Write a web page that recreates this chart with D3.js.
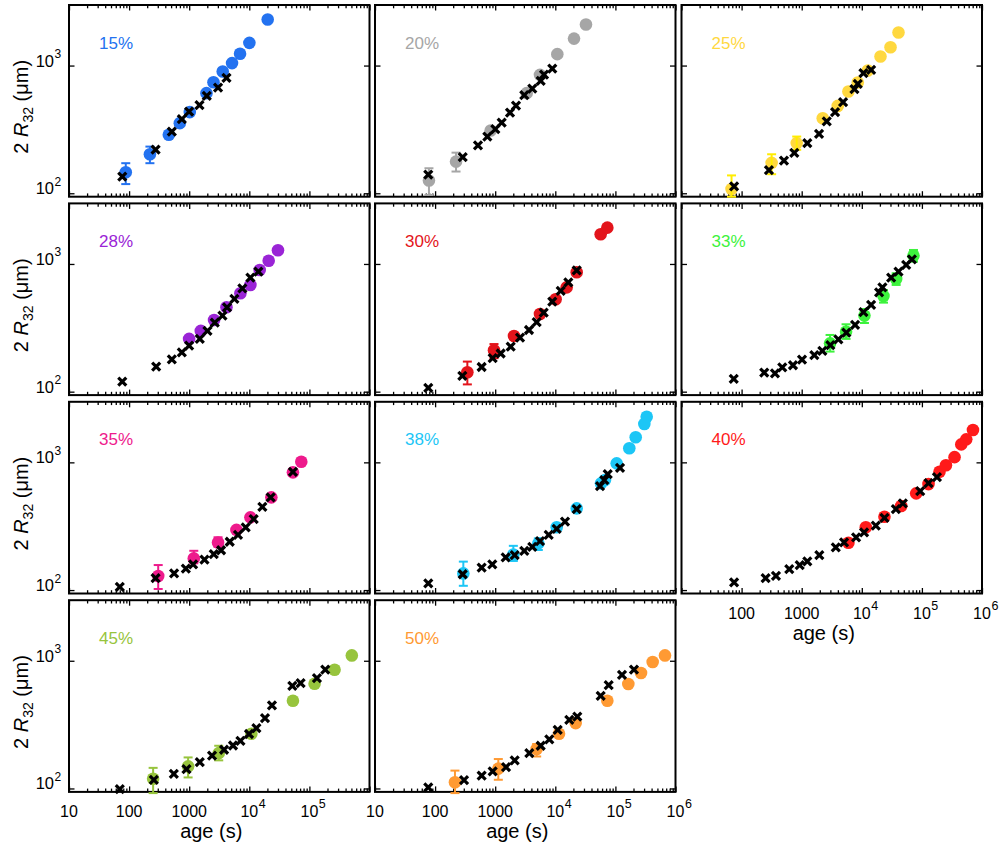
<!DOCTYPE html>
<html><head><meta charset="utf-8">
<script src="https://cdn.jsdelivr.net/npm/d3@7"></script>
<style>body{margin:0;background:#fff} text{font-family:"Liberation Sans",Arial,sans-serif}</style>
</head><body><svg id="c" width="1000" height="847"></svg>
<script>
// circles: [age, 2R32, errLow, errHigh]; crosses: [age, 2R32]
const c15 = [[88,146,118,172],[222,202,172,232],[458,287],[698,354],[1023,432],[1937,608],[2535,741],[3614,898],[5161,1045],[7014,1236],[10040,1506],[20230,2293]];
const x15 = [[77,135],[276,220],[514,304],[754,380],[996,436],[1483,490],[1960,579],[3020,673],[4170,801]];
const c20 = [[79,126,97,157],[223,177,148,208],[841,310],[3342,608],[5560,846],[10800,1228],[20480,1626],[32400,2094]];
const x20 = [[77,140],[288,192],[517,237],[740,278],[1005,318],[1282,358],[1763,428],[2218,486],[3048,586],[4140,661],[5710,759],[6490,851],[8910,948]];
const c25 = [[68,108,94,138],[316,173,141,202],[826,247,219,278],[2239,387],[3981,483],[5990,626],[8570,736],[12590,914],[20470,1176],[30050,1393],[40800,1813]];
const x25 = [[75,113],[285,152],[507,180],[753,207],[1240,247],[1943,292],[2610,365],[3590,432],[4880,517],[7540,653],[8570,719],[10640,871],[14290,925]];
const c28 = [[997,259],[1560,299],[2594,364],[4170,458],[7120,589],[10430,685],[14890,898],[21000,1061],[30000,1280]];
const x28 = [[77,120],[282,157],[514,179],[754,203],[997,229],[1500,259],[2013,299],[2663,347],[3574,394],[4260,458],[5650,532],[7670,645],[10430,781],[14170,871]];
const c30 = [[344,142,114,172],[955,211,183,236],[2056,273],[5560,406],[10130,529],[15450,656],[22700,861],[56900,1709],[73450,1924]];
const x30 = [[77,107],[284,133],[595,156],[907,183],[1233,199],[1810,225],[2588,265],[3650,304],[4900,351],[6410,416],[8910,507],[12300,615],[16480,718],[22700,892]];
const c33 = [[2965,239,206,278],[5470,295,259,337],[11070,394,345,444],[22950,561,498,625],[37300,763,685,846],[72400,1161,1042,1287]];
const x33 = [[74,126],[238,141],[359,139],[475,155],[716,161],[1012,178],[1622,193],[2205,209],[2997,231],[4074,257],[5530,290],[7730,333],[10640,419],[14290,478],[19410,600],[22030,656],[30770,781],[40800,871],[54700,982],[68100,1087]];
const c35 = [[305,129,102,157],[1192,177,162,203],[3020,236,218,259],[6110,296],[10430,371],[23270,532],[53200,835],[73300,1011]];
const x35 = [[70,106],[276,124],[561,135],[879,147],[1161,159],[1795,173],[2562,191],[3390,205],[4725,239],[6490,270],[8710,310],[11830,360],[16500,449],[22650,532],[53200,844]];
const c38 = [[295,135,108,167],[2004,190,169,222],[5220,232,206,254],[10550,310],[22700,436],[57540,685],[67100,727],[105000,982],[170300,1288],[217700,1571],[303000,1995],[331800,2276]];
const x38 = [[77,113],[288,133],[595,150],[895,159],[1493,180],[2109,188],[3048,203],[4140,218],[5560,242],[7760,270],[10550,301],[14500,343],[22700,431],[55460,652],[65300,727],[74500,810],[119400,907]];
const c40 = [[5990,235,222,248],[11660,310],[23820,375],[45200,455],[80350,572],[128800,676],[196400,844],[251200,948],[349300,1099],[451800,1383],[547000,1514],[707500,1790]];
const x40 = [[75,115],[251,124],[373,129],[621,146],[926,157],[1240,168],[1965,188],[3690,216],[5070,236],[8035,259],[10920,283],[17100,319],[23820,368],[36870,431],[48200,478],[93700,596],[128800,689],[177800,767]];
const c45 = [[251,119,92,145],[959,149,122,175],[3100,189,166,216],[10830,268],[53200,486],[122000,661],[262400,851],[508000,1101]];
const x45 = [[70,99],[258,117],[555,130],[901,142],[1500,161],[2400,181],[3800,201],[5360,217],[7120,236],[9890,267],[13120,297],[18240,356],[23840,447],[52000,637],[71400,669],[133400,731],[183700,851]];
const c50 = [[214,112,92,138],[1127,143,117,170],[4900,204,178,223],[11530,268],[21830,325],[73450,486],[164000,657],[266700,801],[417000,977],[668000,1101]];
const x50 = [[77,102],[303,116],[595,126],[907,136],[1514,147],[2109,166],[3698,189],[5710,216],[7943,242],[10960,288],[17100,345],[23230,366],[56900,532],[77300,645],[128800,776],[203700,851]];

const pctLabels = ["15%","20%","25%","28%","30%","33%","35%","38%","40%","45%","50%"];
const colors = ["#2372f0","#a6a6a6","#ffd83f","#9a24d6","#e3141b","#3df23d","#ee1a8c","#1cc6f6","#ff1a1a","#97c43d","#ff9a33"];
const errColors = ["#2372f0","#a6a6a6","#ffec00","#9a24d6","#e3141b","#3df23d","#ee1a8c","#1cc6f6","#ff1a1a","#97c43d","#ff9a33"];
const circleSets = [c15,c20,c25,c28,c30,c33,c35,c38,c40,c45,c50];
const crossSets = [x15,x20,x25,x28,x30,x33,x35,x38,x40,x45,x50];

const xTickValues = [10,100,1000,1e4,1e5,1e6];
const xTickBase = ["10","100","1000","10","10","10"];
const xTickSup = ["","","","4","5","6"];
const yTickValues = [100,1000];
const yTickBase = ["10","10"];
const yTickSup = ["2","3"];
const xDomain = [10,1e6];
const yDomain = [94,2980];

const svg = d3.select("#c");
const colLeft = [69,375,681.5], W = 300.5;
const rowTop = [5,203.4,401.8,600.2], H = 191.7;
const xMinor = [];
for (let e=1;e<6;e++) for (let k=2;k<10;k++) xMinor.push(k*Math.pow(10,e));

const xLabelPanels = {9:[0,1,2,3,4], 10:[0,1,2,3,4,5], 8:[1,2,3,4,5]};

pctLabels.forEach((lab,i)=>{
  const row = Math.floor(i/3), col = i%3;
  const x0 = colLeft[col], y0 = rowTop[row];
  const x = d3.scaleLog().domain(xDomain).range([x0, x0+W]);
  const y = d3.scaleLog().domain(yDomain).range([y0+H, y0]);
  const g = svg.append("g");

  const addAxis = (axis, tr) => {
    const a = g.append("g").attr("transform", tr).call(axis);
    a.select(".domain").remove();
    a.selectAll("line").attr("stroke","#000").attr("stroke-width",1.3);
  };
  addAxis(d3.axisBottom(x).tickValues(xTickValues).tickSize(-5.5).tickFormat(""), `translate(0,${y0+H})`);
  addAxis(d3.axisBottom(x).tickValues(xMinor).tickSize(-3.3).tickFormat(""), `translate(0,${y0+H})`);
  addAxis(d3.axisTop(x).tickValues(xTickValues).tickSize(-5.5).tickFormat(""), `translate(0,${y0})`);
  addAxis(d3.axisTop(x).tickValues(xMinor).tickSize(-3.3).tickFormat(""), `translate(0,${y0})`);
  addAxis(d3.axisLeft(y).tickValues(yTickValues).tickSize(-5.5).tickFormat(""), `translate(${x0},0)`);
  addAxis(d3.axisRight(y).tickValues(yTickValues).tickSize(-5.5).tickFormat(""), `translate(${x0+W},0)`);

  g.append("rect").attr("x",x0).attr("y",y0).attr("width",W).attr("height",H)
    .attr("fill","none").attr("stroke","#000").attr("stroke-width",2);

  const cs = circleSets[i];
  g.append("g").selectAll("circle").data(cs).join("circle")
    .attr("cx",d=>x(d[0])).attr("cy",d=>y(d[1])).attr("r",6.3).attr("fill",colors[i]);
  const eb = g.append("g").attr("stroke",errColors[i]).attr("stroke-width",2).attr("fill","none");
  cs.filter(d=>d.length===4).forEach(d=>{
    const cx = x(d[0]);
    eb.append("line").attr("x1",cx).attr("x2",cx).attr("y1",y(d[2])).attr("y2",y(d[3]));
    eb.append("line").attr("x1",cx-4.5).attr("x2",cx+4.5).attr("y1",y(d[2])).attr("y2",y(d[2]));
    eb.append("line").attr("x1",cx-4.5).attr("x2",cx+4.5).attr("y1",y(d[3])).attr("y2",y(d[3]));
  });
  g.append("g").selectAll("path").data(crossSets[i]).join("path")
    .attr("transform",d=>`translate(${x(d[0])},${y(d[1])})`)
    .attr("d","M-4,-4L4,4M-4,4L4,-4")
    .attr("stroke","#000").attr("stroke-width",3.2).attr("fill","none");

  g.append("text").attr("x",x0+30).attr("y",y0+43.5).attr("fill",colors[i])
    .attr("font-size",17).text(lab);

  if (col===0) {
    yTickValues.forEach((v,k)=>{
      const ty = y(v)+1;
      g.append("text").attr("x",x0-15).attr("y",ty).attr("text-anchor","end")
        .attr("font-size",16.5).text(yTickBase[k]);
      g.append("text").attr("x",x0-14.5).attr("y",ty-8.5).attr("text-anchor","start")
        .attr("font-size",12).text(yTickSup[k]);
    });
    const lt = svg.append("text").attr("transform",`translate(28,${y0+H/2+6}) rotate(-90)`)
      .attr("text-anchor","middle").attr("font-size",20);
    lt.append("tspan").text("2 ");
    lt.append("tspan").attr("font-style","italic").text("R");
    lt.append("tspan").attr("font-size",14).attr("dy",5).text("32");
    lt.append("tspan").attr("dy",-5).text(" (μm)");
  }
  if (xLabelPanels[i]) {
    const by = y0+H+25.5;
    xLabelPanels[i].forEach(k=>{
      const tx = x(xTickValues[k]);
      const t = g.append("text").attr("x",tx).attr("y",by).attr("text-anchor","middle")
        .attr("font-size",16).text(xTickBase[k]);
      if (xTickSup[k]) {
        const w = t.node().getComputedTextLength();
        g.append("text").attr("x",tx+w/2+0.5).attr("y",by-9.5).attr("font-size",12.5).text(xTickSup[k]);
      }
    });
    g.append("text").attr("x",x0+W/2-8).attr("y",y0+H+46).attr("text-anchor","middle")
      .attr("font-size",20).text("age (s)");
  }
});
</script></body></html>
